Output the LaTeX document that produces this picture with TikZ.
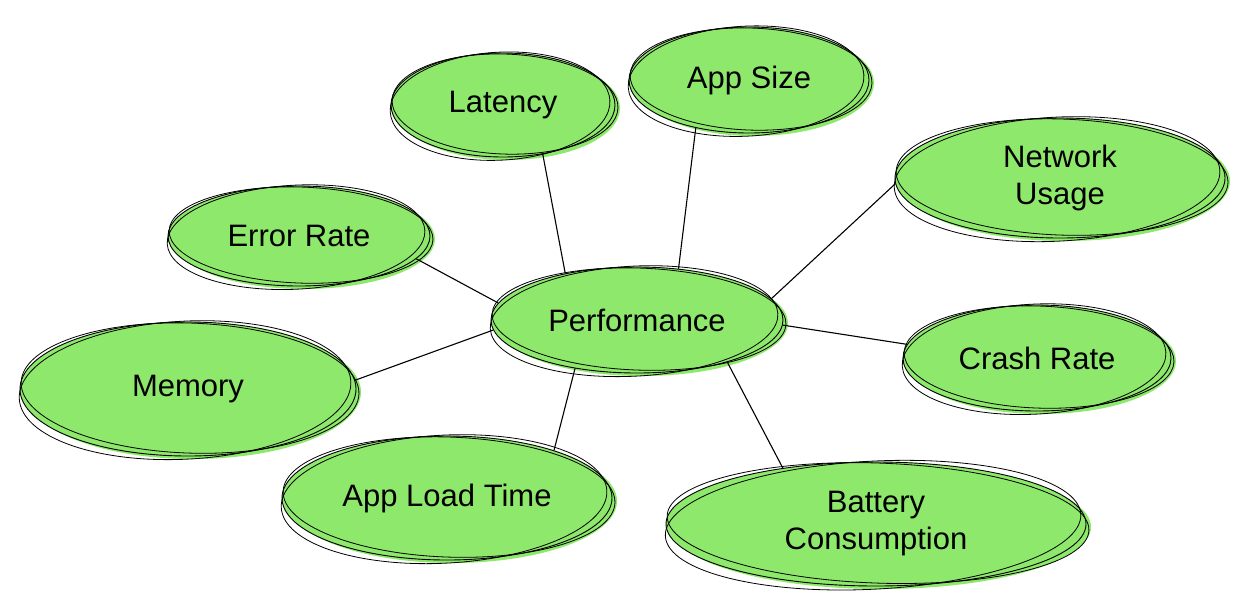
\documentclass[tikz,border=0pt]{standalone}
\usepackage{fontspec}
\setmainfont{Liberation Sans}
\usetikzlibrary{shapes.geometric}
\definecolor{bub}{HTML}{8EE86C}
\tikzset{
  bubble/.style={ellipse, fill=bub, draw=black, line width=0.9pt, inner sep=0pt,
    align=center, font=\fontsize{31}{37}\selectfont},
  sketch/.style={draw=black, line width=0.8pt},
  link/.style={draw=black, line width=1.1pt}
}
\newcommand{\bubl}[6]{%
  \fill[bub] (#2+5,#3+3) ellipse [x radius=#4, y radius=#5];
  \node[bubble, minimum width=2*#4, minimum height=2*#5] (#1) at (#2,#3) {#6};
  \draw[sketch, rotate around={3:(#2,#3)}] (#2-3,#3+1) ellipse [x radius=#4-2, y radius=#5+2];
  \draw[sketch, rotate around={-2:(#2,#3)}] (#2+2,#3-1) ellipse [x radius=#4+1, y radius=#5-2];
}
\begin{document}
\begin{tikzpicture}[x=1pt,y=-1pt]
\useasboundingbox (0,0) rectangle (1246,614);
\bubl{perf}{637}{320}{146}{53}{Performance}
\bubl{lat}{503}{105}{112}{52}{Latency}
\bubl{size}{749}{80}{120}{53}{App Size}
\bubl{net}{1060}{178}{165}{60}{Network\\Usage}
\bubl{err}{299}{236}{131}{50}{Error Rate}
\bubl{crash}{1037}{358}{134}{53}{Crash Rate}
\bubl{mem}{188}{389}{168}{67}{Memory}
\bubl{load}{447}{498}{165}{62}{App Load Time}
\bubl{bat}{876}{524}{210}{62}{Battery\\Consumption}
\draw[link] (perf.147) -- (lat.309);
\draw[link] (perf.51) -- (size.222);
\draw[link] (perf.9) -- (net.182);
\draw[link] (perf.173) -- (err.349);
\draw[link] (perf.184) -- (mem.3);
\draw[link] (perf.358) -- (crash.174);
\draw[link] (perf.218) -- (load.24);
\draw[link] (perf.335) -- (bat.149);
\end{tikzpicture}
\end{document}
